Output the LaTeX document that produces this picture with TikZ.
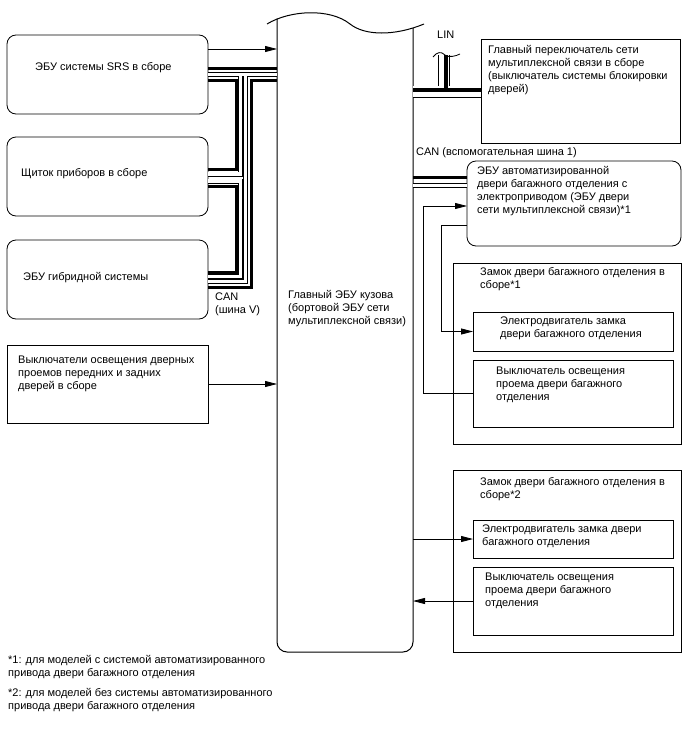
\documentclass[tikz,border=0pt]{standalone}
\usepackage{fontspec}
\setmainfont{Liberation Sans}
\usetikzlibrary{arrows.meta,calc}

\begin{document}
\begin{tikzpicture}[x=1pt, y=-1pt,
    box/.style={draw, line width=0.8pt, anchor=north west,
                inner sep=0pt, outer sep=0pt},
    rbox/.style={box, rounded corners=9pt},
    txt/.style={inner sep=0pt, align=left,
                font=\fontsize{11}{13}\selectfont},
    arr/.style={-{Triangle[length=12pt,width=6pt]}, line width=0.8pt},
    ln/.style={line width=0.8pt},
    canh/.style={line width=3pt},
    canl/.style={double, line width=0.8pt, double distance=3.4pt}
  ]
  \useasboundingbox (0,0) rectangle (688,755);

  % units on the left
  \node[rbox, minimum width=201pt, minimum height=79pt] (srs) at (7,35) {};
  \node[txt, anchor=west] (srst) at (35,68) {ЭБУ системы SRS в сборе};
  \node[rbox, minimum width=201pt, minimum height=79pt] (ip) at (7,137) {};
  \node[txt, anchor=west] (ipt) at (21,174) {Щиток приборов в сборе};
  \node[rbox, minimum width=201pt, minimum height=79pt] (hv) at (7,240) {};
  \node[txt, anchor=west] (hvt) at (23,278) {ЭБУ гибридной системы};
  \node[box, minimum width=201pt, minimum height=78pt] (cs) at (7,345) {};
  \node[txt, anchor=north west] (cst) at (18,356)
    {Выключатели освещения дверных\\проемов передних и задних\\дверей в сборе};

  % main body ECU
  \node[anchor=north west, inner sep=0pt, outer sep=0pt,
        minimum width=136pt, minimum height=632pt] (bcm) at (277,20) {};
  \draw[line width=1pt] (267,24) .. controls (290,10) and (330,8) .. (350,24)
    .. controls (365,36) and (395,36) .. (424,24);
  \draw[line width=1pt, rounded corners=10pt] ($(bcm.north west)+(0,-1.5)$)
    |- (bcm.south) -| ($(bcm.north east)+(0,8)$);
  \node[txt, anchor=north west] (bcmt) at (288,290)
    {Главный ЭБУ кузова\\(бортовой ЭБУ сети\\мультиплексной связи)};

  % units on the right
  \node[box, minimum width=199pt, minimum height=104pt] (msw) at (481,39) {};
  \node[txt, anchor=north west] (mswt) at (488,45)
    {Главный переключатель сети\\мультиплексной связи в сборе\\(выключатель системы блокировки\\дверей)};
  \node[rbox, minimum width=214pt, minimum height=85pt] (pbd) at (467,161) {};
  \node[txt, anchor=north west] (pbdt) at (477,166)
    {ЭБУ автоматизированной\\двери багажного отделения с\\электроприводом (ЭБУ двери\\сети мультиплексной связи)*1};

  \node[box, minimum width=228pt, minimum height=181pt] (lk1) at (453,263) {};
  \node[txt, anchor=north west] (lk1t) at (480,267)
    {Замок двери багажного отделения в\\сборе*1};
  \node[box, minimum width=200pt, minimum height=39pt] (mt1) at (473,312) {};
  \node[txt, anchor=north west] (mt1t) at (500,317)
    {Электродвигатель замка\\двери багажного отделения};
  \node[box, minimum width=200pt, minimum height=67pt] (sw1) at (473,360) {};
  \node[txt, anchor=north west] (sw1t) at (496,367)
    {Выключатель освещения\\проема двери багажного\\отделения};

  \node[box, minimum width=228pt, minimum height=182pt] (lk2) at (453,470) {};
  \node[txt, anchor=north west] (lk2t) at (480,477)
    {Замок двери багажного отделения в\\сборе*2};
  \node[box, minimum width=200pt, minimum height=38pt] (mt2) at (473,520) {};
  \node[txt, anchor=north west] (mt2t) at (482,525)
    {Электродвигатель замка двери\\багажного отделения};
  \node[box, minimum width=200pt, minimum height=68pt] (sw2) at (473,567) {};
  \node[txt, anchor=north west] (sw2t) at (485,573)
    {Выключатель освещения\\проема двери багажного\\отделения};

  % bus labels
  \node[txt, anchor=north west] (linl) at (437,31) {LIN};
  \node[txt, anchor=north west] (can1l) at (416,147) {CAN (вспомогательная шина 1)};
  \node[txt, anchor=north west] (canvl) at (215,293) {CAN\\(шина V)};

  % CAN (V bus)
  \coordinate (v1) at ($(srs.north east)+(0,33)$);
  \coordinate (v2) at ($(srs.north east)+(0,39.5)$);
  \coordinate (v3) at ($(srs.north east)+(0,45)$);
  \draw[canh] (v1) -- (v1 -| bcm.west);
  \draw[canh] (v3) -- ++(28,0) |- ($(ip.north east)+(0,32)$);
  \draw[canh] ($(bcm.north west)+(0,60)$) -- ++(-26,0) |- ($(hv.north east)+(0,47)$);
  \draw[canh] ($(ip.north east)+(0,49)$) -- ++(28,0) -- ++(0,86) -- ++(-28,0);
  \draw[canl] (v2) -- (v2 -| bcm.west)
    ($(v2)+(32.5,0)$) |- ($(ip.north east)+(0,37)$)
    ($(v2)+(37.5,0)$) |- ($(hv.north east)+(0,41.5)$)
    ($(ip.north east)+(0,44)$) -| ++(32.5,95.5) -- ++(-32.5,0);

  % LIN
  \coordinate (lin) at ($(msw.north west)+(-37,16)$);
  \coordinate (linb) at ($(msw.north west)+(0,52.5)$);
  \coordinate (linc) at ($(msw.north west)+(0,51)$);
  \draw[double, line width=0.8pt, double distance=10.4pt]
    (bcm.east |- linb) -- (linb) (lin) -- (lin |- linb);
  \draw[line width=4pt] (bcm.east |- linc) -- (linc)
    ($(lin)+(2,0)$) -- ($(lin |- linc)+(2,0)$);
  \draw[ln] ($(lin)+(-11,2)$) .. controls +(4,-5) and +(-4,-4) .. ($(lin)+(1,0)$)
    .. controls +(4,3) and +(-4,2) .. ($(lin)+(16,-1)$);

  % CAN (sub bus 1)
  \coordinate (c1) at ($(pbd.north west)+(0,16.5)$);
  \coordinate (c2) at ($(pbd.north west)+(0,24.5)$);
  \draw[canh] (c1) -- (c1 -| bcm.east);
  \draw[canl] (c2) -- (c2 -| bcm.east);

  % signal lines
  \coordinate (srsa) at ($(srs.north east)+(0,14)$);
  \coordinate (pbdo) at ($(pbd.north west)+(0,64)$);
  \coordinate (pbdi) at ($(pbd.north west)+(0,45)$);
  \draw[arr] (srsa) -- (srsa -| bcm.west);
  \draw[arr] (cs.east) -- (cs.east -| bcm.west);
  \draw[arr] (pbdo) -- ++(-26,0) |- (mt1.west);
  \draw[arr] (sw1.west) -- ++(-50,0) |- (pbdi);
  \draw[arr] (mt2.west -| bcm.east) -- (mt2.west);
  \draw[arr] (sw2.west) -- (sw2.west -| bcm.east);

  % notes
  \node[txt, anchor=north west] (n1) at (8,655)
    {*1: для моделей с системой автоматизированного\\привода двери багажного отделения};
  \node[txt, anchor=north west] (n2) at (8,688)
    {*2: для моделей без системы автоматизированного\\привода двери багажного отделения};
\end{tikzpicture}
\end{document}
